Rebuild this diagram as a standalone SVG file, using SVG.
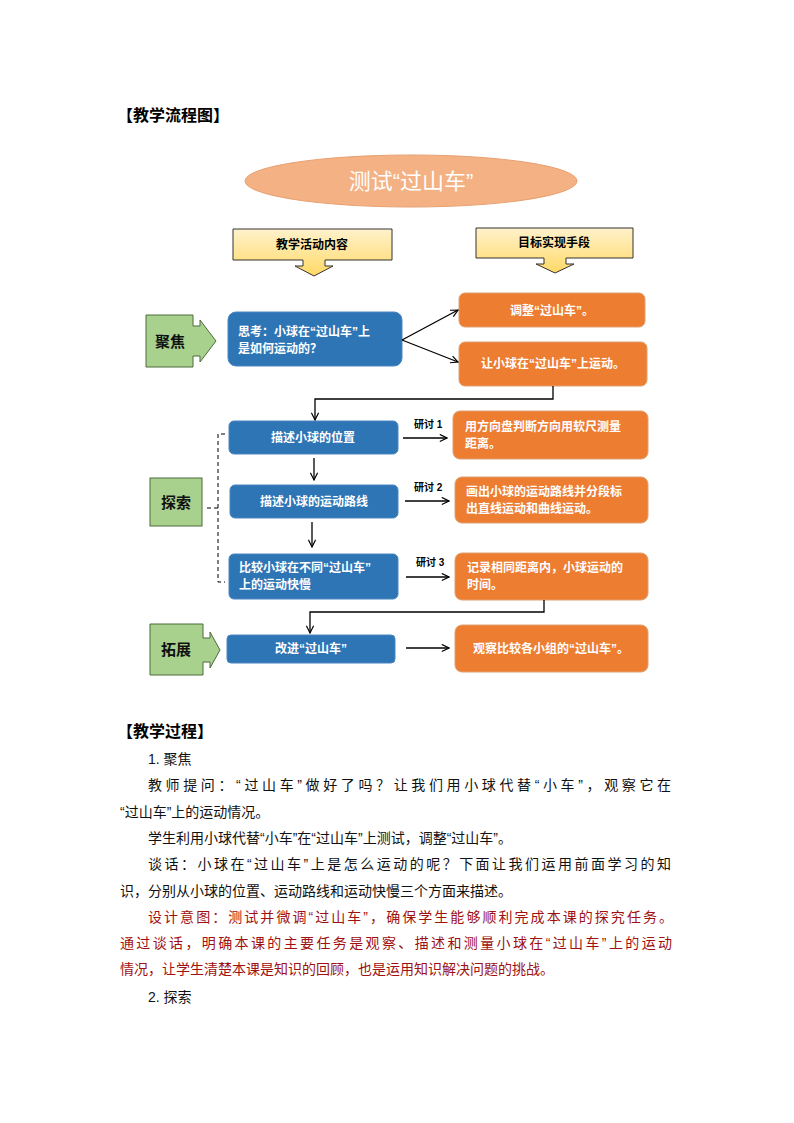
<svg xmlns="http://www.w3.org/2000/svg" width="794" height="1123" viewBox="0 0 794 1123">
<defs>
<style>
text{font-family:"Liberation Sans","Noto Sans CJK SC",sans-serif}
.b{fill:#2e75b6;stroke:#4a86c0;stroke-width:1}
.o{fill:#ed7d31;stroke:#e0a070;stroke-width:1}
.g{fill:#a9d18e;stroke:#4c6b3a;stroke-width:1}
.y{fill:#ffd966;stroke:#333;stroke-width:1}
.wt{fill:#fff;font-size:12px;font-weight:bold}
.gt{fill:#111;font-size:15px;font-weight:bold}
.ln{stroke:#000;stroke-width:1.3;fill:none}
.body{font-size:14px;fill:#111}
.red{font-size:14px;fill:#a01010}
</style>
<marker id="ar" viewBox="0 0 10 10" refX="9" refY="5" markerWidth="9" markerHeight="9" orient="auto" markerUnits="userSpaceOnUse"><path d="M1,1 L9,5 L1,9" fill="none" stroke="#000" stroke-width="1.3"/></marker>
<linearGradient id="yg" x1="0" y1="0" x2="0" y2="1"><stop offset="0" stop-color="#fff2cc"/><stop offset="1" stop-color="#ffd966"/></linearGradient>
</defs>
<text x="117" y="121" font-size="16" font-weight="bold" fill="#000">【教学流程图】</text>
<g id="title"><ellipse cx="411" cy="181" rx="166" ry="26" fill="#f4b183" stroke="#e8a070"/><text x="411" y="189" font-size="22" fill="#fff" text-anchor="middle">测试“过山车”</text></g>
<g id="hdr1"><path d="M233,229 H392 V260 H325 V266 H333 L314,276 L295,266 H303 V260 H233 Z" fill="url(#yg)" stroke="#333"/><text x="312" y="249" font-size="12" font-weight="bold" text-anchor="middle">教学活动内容</text></g>
<g id="hdr2"><path d="M476,228 H633 V258 H566 V264 H574 L555,273 L536,264 H544 V258 H476 Z" fill="url(#yg)" stroke="#333"/><text x="554" y="247" font-size="12" font-weight="bold" text-anchor="middle">目标实现手段</text></g>
<g id="focus"><path d="M146,315 H193 V326 H200 V320 L216,341 L200,362 V356 H193 V367 H146 Z" class="g"/><text x="170" y="347" class="gt" text-anchor="middle">聚焦</text></g>
<g id="q"><rect x="228" y="312" width="174" height="54" rx="8" class="b"/><text class="wt" x="238" y="336">思考：小球在“过山车”上</text><text class="wt" x="238" y="353">是如何运动的？</text></g>
<g id="o1"><rect x="459" y="293" width="186" height="34" rx="6" class="o"/><text class="wt" x="552" y="315" text-anchor="middle">调整“过山车”。</text></g>
<g id="o2"><rect x="459" y="342" width="188" height="44" rx="6" class="o"/><text class="wt" x="553" y="368" text-anchor="middle">让小球在“过山车”上运动。</text></g>
<g id="explore"><rect x="150" y="478" width="52" height="48" class="g"/><text x="176" y="508" class="gt" text-anchor="middle">探索</text></g>
<g id="b1"><rect x="229" y="421" width="169" height="33" rx="5" class="b"/><text class="wt" x="313" y="442" text-anchor="middle">描述小球的位置</text></g>
<g id="r1"><rect x="453" y="411" width="195" height="48" rx="7" class="o"/><text class="wt" x="465" y="431">用方向盘判断方向用软尺测量</text><text class="wt" x="465" y="448">距离。</text></g>
<g id="b2"><rect x="230" y="485" width="168" height="33" rx="5" class="b"/><text class="wt" x="314" y="506" text-anchor="middle">描述小球的运动路线</text></g>
<g id="r2"><rect x="455" y="477" width="193" height="46" rx="7" class="o"/><text class="wt" x="466" y="496">画出小球的运动路线并分段标</text><text class="wt" x="466" y="513">出直线运动和曲线运动。</text></g>
<g id="b3"><rect x="229" y="554" width="169" height="45" rx="5" class="b"/><text class="wt" x="239" y="572">比较小球在不同“过山车”</text><text class="wt" x="239" y="589">上的运动快慢</text></g>
<g id="r3"><rect x="455" y="553" width="193" height="47" rx="7" class="o"/><text class="wt" x="467" y="572">记录相同距离内，小球运动的</text><text class="wt" x="467" y="589">时间。</text></g>
<g id="extend"><path d="M150,624 H203 V638 H210 V632 L220,650 L210,668 V662 H203 V675 H150 Z" class="g"/><text x="176" y="655" class="gt" text-anchor="middle">拓展</text></g>
<g id="b4"><rect x="227" y="635" width="168" height="28" rx="4" class="b"/><text class="wt" x="311" y="653" text-anchor="middle">改进“过山车”</text></g>
<g id="r4"><rect x="455" y="625" width="193" height="47" rx="7" class="o"/><text class="wt" x="551" y="653" text-anchor="middle">观察比较各小组的“过山车”。</text></g>
<g id="connectors">
<line class="ln" x1="402" y1="340" x2="458" y2="310" marker-end="url(#ar)"/>
<line class="ln" x1="402" y1="340" x2="458" y2="362" marker-end="url(#ar)"/>
<polyline class="ln" points="553,386 553,399 315,399 315,420" marker-end="url(#ar)"/>
<line class="ln" x1="403" y1="438" x2="447" y2="438" marker-end="url(#ar)"/>
<line class="ln" x1="314" y1="458" x2="314" y2="480" marker-end="url(#ar)"/>
<line class="ln" x1="405" y1="501" x2="449" y2="501" marker-end="url(#ar)"/>
<line class="ln" x1="312" y1="522" x2="312" y2="547" marker-end="url(#ar)"/>
<line class="ln" x1="406" y1="577" x2="449" y2="577" marker-end="url(#ar)"/>
<polyline class="ln" points="544,600 544,612 310,612 310,633" marker-end="url(#ar)"/>
<line class="ln" x1="406" y1="648" x2="449" y2="648" marker-end="url(#ar)"/>
<path d="M225,434 H218 V582 H225 M207,508 H218" fill="none" stroke="#000" stroke-width="1" stroke-dasharray="4,3"/>
<text x="414" y="428" font-size="10" font-weight="bold">研讨 1</text>
<text x="414" y="491" font-size="10" font-weight="bold">研讨 2</text>
<text x="416" y="566" font-size="10" font-weight="bold">研讨 3</text>
</g>
<text x="117" y="737" font-size="16" font-weight="bold">【教学过程】</text>
<text class="body" x="148" y="764">1. 聚焦</text>
<text class="body" x="148" y="790" textLength="523" lengthAdjust="spacing">教师提问：“过山车”做好了吗？让我们用小球代替“小车”，观察它在</text>
<text class="body" x="120" y="817">“过山车”上的运动情况。</text>
<text class="body" x="148" y="843">学生利用小球代替“小车”在“过山车”上测试，调整“过山车”。</text>
<text class="body" x="148" y="869" textLength="523" lengthAdjust="spacing">谈话：小球在“过山车”上是怎么运动的呢？下面让我们运用前面学习的知</text>
<text class="body" x="120" y="896">识，分别从小球的位置、运动路线和运动快慢三个方面来描述。</text>
<text class="red" x="148" y="922" textLength="525" lengthAdjust="spacing">设计意图：测试并微调“过山车”，确保学生能够顺利完成本课的探究任务。</text>
<text class="red" x="120" y="948" textLength="552" lengthAdjust="spacing">通过谈话，明确本课的主要任务是观察、描述和测量小球在“过山车”上的运动</text>
<text class="red" x="120" y="974">情况，让学生清楚本课是知识的回顾，也是运用知识解决问题的挑战。</text>
<text class="body" x="148" y="1002">2. 探索</text>
</svg>
